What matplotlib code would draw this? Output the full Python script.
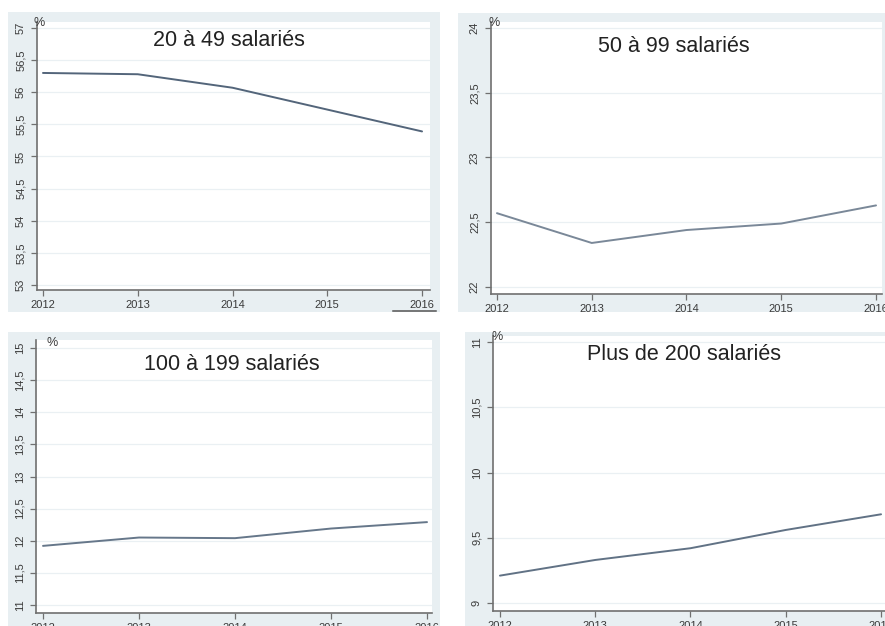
import matplotlib
matplotlib.use("Agg")
import matplotlib.pyplot as plt
from matplotlib.patches import Rectangle
from matplotlib.lines import Line2D

plt.rcParams['font.family'] = ['Liberation Sans', 'DejaVu Sans']

# Data: share of employees by firm size class (%)
years = [2012, 2013, 2014, 2015, 2016]
titles = ["20 à 49 salariés", "50 à 99 salariés", "100 à 199 salariés", "Plus de 200 salariés"]
share_20_49 = [56.30, 56.28, 56.07, 55.73, 55.39]
share_50_99 = [22.57, 22.34, 22.44, 22.49, 22.63]
share_100_199 = [11.92, 12.05, 12.04, 12.19, 12.29]
share_200_plus = [9.21, 9.33, 9.42, 9.56, 9.68]
yticks_20_49 = [53, 53.5, 54, 54.5, 55, 55.5, 56, 56.5, 57]
yticks_50_99 = [22, 22.5, 23, 23.5, 24]
yticks_100_199 = [11, 11.5, 12, 12.5, 13, 13.5, 14, 14.5, 15]
yticks_200_plus = [9, 9.5, 10, 10.5, 11]

W, H = 885, 626
fig = plt.figure(figsize=(W / 100, H / 100), dpi=100)
fig.patch.set_facecolor("white")

BG = "#e8eff2"
AXC = "#707070"
TXT = "#3a3a3a"


def px_rect(x0, y0, x1, y1):
    return [x0 / W, 1 - y1 / H, (x1 - x0) / W, (y1 - y0) / H]


def fmt(v):
    s = f"{v:g}"
    return s.replace(".", ",")


panels = [
    # outer region, axes box, xlim, ylim, title centre, % position, series, yticks
    dict(outer=(8, 12, 440, 312), box=(37, 22, 430, 290),
         xlim=(2011.937, 2016.084), ylim=(52.922, 57.093), color="#53657a",
         title=(229, 40), pct=(39, 23), y=share_20_49, yt=yticks_20_49, t=titles[0]),
    dict(outer=(458, 13, 892, 312), box=(491, 22, 882, 294),
         xlim=(2011.937, 2016.063), ylim=(21.946, 24.046), color="#7a8898",
         title=(674, 47), pct=(494, 23), y=share_50_99, yt=yticks_50_99, t=titles[1]),
    dict(outer=(8, 332, 440, 630), box=(36, 340, 432, 613),
         xlim=(2011.927, 2016.052), ylim=(10.875, 15.125), color="#66778a",
         title=(232, 365), pct=(52, 343), y=share_100_199, yt=yticks_100_199, t=titles[2]),
    dict(outer=(465, 332, 892, 630), box=(493, 336, 890, 611),
         xlim=(2011.927, 2016.094), ylim=(8.939, 11.046), color="#617285",
         title=(684, 355), pct=(497, 337), y=share_200_plus, yt=yticks_200_plus, t=titles[3]),
]

for p in panels:
    x0, y0, x1, y1 = p["outer"]
    fig.patches.append(Rectangle((x0 / W, 1 - y1 / H), (x1 - x0) / W, (y1 - y0) / H,
                                 transform=fig.transFigure, facecolor=BG,
                                 edgecolor="none", zorder=-10))
    ax = fig.add_axes(px_rect(*p["box"]))
    ax.set_zorder(1)
    ax.set_facecolor("white")
    ax.plot(years, p["y"], color=p["color"], lw=1.4, solid_capstyle="round")
    ax.set_xlim(*p["xlim"])
    ax.set_ylim(*p["ylim"])
    ax.set_xticks(years)
    ax.set_xticklabels([str(y) for y in years], fontsize=8, color=TXT)
    ax.set_yticks(p["yt"])
    ax.set_yticklabels([fmt(v) for v in p["yt"]], fontsize=8, color=TXT,
                       rotation=90, va="center")
    for s in ("top", "right"):
        ax.spines[s].set_visible(False)
    for s in ("left", "bottom"):
        ax.spines[s].set_color(AXC)
        ax.spines[s].set_linewidth(1.2)
    ax.tick_params(axis="both", length=4, width=0.9, color=AXC)
    ax.tick_params(axis="y", pad=4)
    ax.tick_params(axis="x", pad=3)
    ax.grid(axis="y", color="#eaf0f3", lw=0.9)
    ax.set_axisbelow(True)
    fig.text(p["title"][0] / W, 1 - p["title"][1] / H, p["t"], ha="center",
             va="center", fontsize=15.5, color="#222222", zorder=5)
    fig.text(p["pct"][0] / W, 1 - p["pct"][1] / H, "%", ha="center",
             va="center", fontsize=9, color=TXT, zorder=5)

# short rule under the last year label of the first panel
fig.lines.append(Line2D([393 / W, 436 / W], [1 - 311 / H, 1 - 311 / H],
                        transform=fig.transFigure, color="#555555", lw=1.1, zorder=5))

fig.savefig("out.png", dpi=100, facecolor="white")
